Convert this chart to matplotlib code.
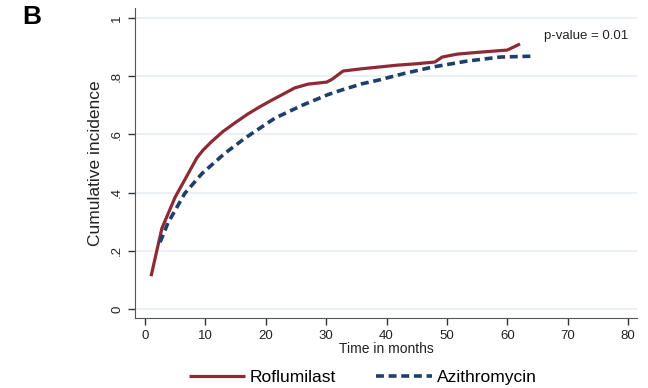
import matplotlib.pyplot as plt

# cumulative incidence curves
rof_t = [1, 2.8, 5, 7, 8.6, 9.6, 11, 12.9, 14.9, 17, 19, 21, 23, 24.8, 27, 30.1, 31, 32.8,
         36, 41.7, 45, 48, 49.2, 51.7, 55, 60, 62.1]
rof_y = [0.113, 0.278, 0.385, 0.46, 0.52, 0.546, 0.575, 0.61, 0.64, 0.67, 0.695, 0.718,
         0.74, 0.76, 0.773, 0.78, 0.79, 0.818, 0.826, 0.838, 0.843, 0.849, 0.866, 0.876,
         0.882, 0.89, 0.911]

azi_t = [2.5, 3.8, 6.6, 9.4, 13.2, 16.6, 21.5, 26, 30.3, 32.3, 35.9, 38.9, 43, 47.7,
         53.3, 58.8, 64.2]
azi_y = [0.23, 0.296, 0.398, 0.465, 0.535, 0.588, 0.656, 0.70, 0.737, 0.751, 0.774, 0.788,
         0.81, 0.832, 0.852, 0.866, 0.869]

yticks = [0, 0.2, 0.4, 0.6, 0.8, 1]
ylabels = ['0', '.2', '.4', '.6', '.8', '1']
xticks = list(range(0, 81, 10))

plt.rcParams['font.family'] = ['Liberation Sans', 'DejaVu Sans']

fig = plt.figure(figsize=(6.48, 3.88), dpi=100)
ax = fig.add_axes([0.2083, 0.180, 0.775, 0.799])

for y in yticks:
    ax.axhline(y, color='#e6edf3', lw=1.2, zorder=0)

ax.plot(rof_t, rof_y, color='#8e2a33', lw=2.3, label='Roflumilast', solid_capstyle='butt')
ax.plot(azi_t, azi_y, color='#1f3f6b', lw=2.6, ls=(0, (2.2, 1.3)), label='Azithromycin')

ax.set_xlim(-1.66, 81.5)
ax.set_ylim(-0.031, 1.034)
ax.set_xticks(xticks)
ax.set_yticks(yticks)
ax.set_yticklabels(ylabels, rotation=90, va='center')
ax.tick_params(axis='both', colors='#333333', labelcolor='#222222', labelsize=9.5,
               length=5, width=1)
ax.spines['top'].set_visible(False)
ax.spines['right'].set_visible(False)
ax.spines['left'].set_color('#555555')
ax.spines['bottom'].set_color('#555555')

ax.set_xlabel('Time in months', fontsize=10, labelpad=0, color='#222222')
ax.set_ylabel('Cumulative incidence', fontsize=12.5, labelpad=6, color='#222222')

ax.text(66.1, 0.94, 'p-value = 0.01', fontsize=9.5, color='#222222', va='center')
fig.text(0.034, 0.955, 'B', fontsize=19, fontweight='bold', va='center')

fig.legend(loc='center', bbox_to_anchor=(0.56, 0.026), ncol=2, frameon=False,
           fontsize=12.5, handlelength=3.2, columnspacing=2.3, handletextpad=0.3)

fig.savefig('out.png', dpi=100)
